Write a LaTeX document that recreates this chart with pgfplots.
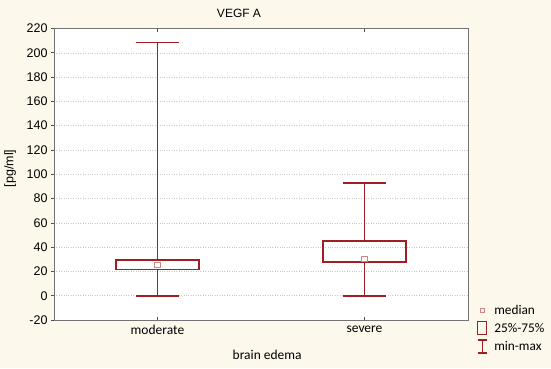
\documentclass[border=0pt]{standalone}
\usepackage{pgfplots}
\pgfplotsset{compat=1.18}
\usepackage{fontspec}
\setmainfont{Liberation Sans}
\newfontfamily\calibri{Carlito}

\definecolor{bg}{RGB}{253,248,236}
\definecolor{boxred}{RGB}{158,30,36}
\definecolor{medred}{RGB}{208,135,135}
\definecolor{gridgray}{RGB}{200,200,200}

\begin{document}
\begin{tikzpicture}
\fill[bg] (0pt,0pt) rectangle (551pt,368pt);
\node[font=\fontsize{12}{14}\selectfont] at (239pt,355pt) {VEGF A};
\begin{axis}[
  at={(54pt,48pt)}, anchor=south west,
  scale only axis, width=414pt, height=291.5pt,
  axis background/.style={fill=white},
  xmin=0.5, xmax=2.5, ymin=-20, ymax=220,
  xtick={1,2}, xticklabels={moderate,severe},
  ytick={-20,0,20,40,60,80,100,120,140,160,180,200,220},
  xtick align=inside, ytick align=outside, ytick pos=left,
  major tick length=3pt,
  tick style={black!70, line width=0.6pt},
  ymajorgrids, grid style={dotted, gridgray, line width=0.5pt},
  axis line style={black!55, line width=1pt},
  /pgf/number format/assume math mode=true,
  yticklabel style={font=\fontsize{12.5}{14}\selectfont},
  xticklabel style={font=\calibri\fontsize{13.5}{16}\selectfont, yshift=-2pt},
  xlabel={brain edema},
  ylabel={[pg/ml]},
  every axis x label/.style={at={(axis description cs:0.515,-0.12)}, anchor=center, font=\calibri\fontsize{13.5}{16}\selectfont},
  every axis y label/.style={at={(axis description cs:-0.106,0.52)}, rotate=90, anchor=center, font=\fontsize{12.5}{14}\selectfont},
  unbounded coords=jump,
  legend style={at={(1.019,0.063)}, anchor=north west, draw=none, fill=none,
    font=\calibri\fontsize{13.3}{16}\selectfont, row sep=3.5pt, column sep=5pt,
    inner sep=1pt},
  legend cell align=left,
]
% moderate: min 0, Q1 21.5, median 25.5, Q3 29.3, max 208.5
\addplot[boxred, line width=1.7pt, line cap=rect, forget plot] coordinates {
  (0.9,0) (1.1,0) (nan,nan)
  (1,0) (1,21.5) (nan,nan)
  (1,29.3) (1,208.5) (nan,nan)
  (0.9,208.5) (1.1,208.5) (nan,nan)
  (0.8,21.5) (1.2,21.5) (1.2,29.3) (0.8,29.3) (0.8,21.5)};
% severe: min 0, Q1 27.7, median 30, Q3 45, max 93
\addplot[boxred, line width=1.7pt, line cap=rect, forget plot] coordinates {
  (1.9,0) (2.1,0) (nan,nan)
  (2,0) (2,27.7) (nan,nan)
  (2,45) (2,93) (nan,nan)
  (1.9,93) (2.1,93) (nan,nan)
  (1.8,27.7) (2.2,27.7) (2.2,45) (1.8,45) (1.8,27.7)};
% medians
\addplot[only marks, mark=square, mark size=2.6pt, medred, line width=1pt,
  forget plot] coordinates {(1,25.5) (2,30)};

\addlegendimage{legend image code/.code={
  \draw[medred, line width=0.9pt] (2.5pt,-2.3pt) rectangle (6.5pt,1.7pt);}}
\addlegendentry{median}
\addlegendimage{legend image code/.code={
  \draw[boxred, line width=1.2pt] (0pt,-6.5pt) rectangle (9pt,6.5pt);}}
\addlegendentry{25\%-75\%}
\addlegendimage{legend image code/.code={
  \draw[boxred, line width=1.2pt] (0pt,-6.5pt) -- (9pt,-6.5pt)
    (4.5pt,-6.5pt) -- (4.5pt,6.5pt) (0pt,6.5pt) -- (9pt,6.5pt);}}
\addlegendentry{min-max}
\end{axis}
\end{tikzpicture}
\end{document}
